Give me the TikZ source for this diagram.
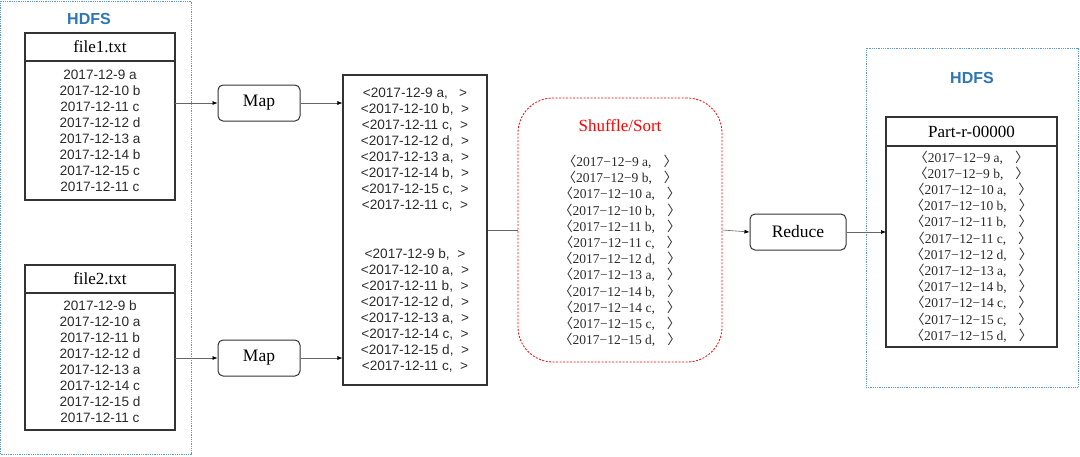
\documentclass[tikz,border=0pt]{standalone}
\usepackage{fontspec}
\setmainfont{Liberation Serif}
\setsansfont{Liberation Sans}
\newfontfamily\cjk{Noto Sans CJK SC}
\usetikzlibrary{arrows.meta,positioning}
\definecolor{hdfsline}{HTML}{5B9BD5}
\definecolor{hdfstext}{HTML}{2E75B6}
\definecolor{boxline}{HTML}{333333}
\definecolor{ink}{HTML}{2B2B2B}
\definecolor{shufred}{HTML}{FF0000}
\newcommand{\kv}[1]{{\cjk 〈}#1\hspace{12pt}{\cjk 〉}}

\begin{document}
\begin{tikzpicture}[x=1pt, y=-1pt,
  hdfs/.style={draw=hdfsline, densely dotted, line width=0.8pt, inner sep=0pt, outer sep=0pt},
  hdfslabel/.style={text=hdfstext, font=\sffamily\bfseries\fontsize{16}{18}\selectfont},
  filehead/.style={draw=boxline, line width=1.1pt, minimum width=150pt, minimum height=28pt,
    inner sep=0pt, outer sep=0pt, font=\fontsize{17}{20}\selectfont},
  filebody/.style={draw=boxline, line width=1.1pt, minimum width=150pt, minimum height=139pt,
    inner sep=0pt, outer sep=0pt, align=center, text=ink, font=\sffamily\fontsize{13.6}{16}\selectfont},
  stepnode/.style={draw=boxline, line width=1pt, rounded corners=5pt, minimum height=36pt,
    font=\fontsize{17.5}{18}\selectfont},
  pairbox/.style={draw=boxline, line width=1.1pt, align=center, text=ink,
    font=\sffamily\fontsize{13.6}{16}\selectfont},
  sorted/.style={align=center, text=ink, font=\fontsize{13.5}{16.2}\selectfont},
  conn/.style={draw=black!60, line width=0.6pt, -{Latex[length=5pt,width=4pt,color=black]}},
  link/.style={draw=black!60, line width=0.6pt}]
  \useasboundingbox (0,0) rectangle (1080,456);

  % left HDFS with the two input files
  \node[hdfs, minimum width=191pt, minimum height=453pt] (hdfsL) at (96,227.5) {};
  \node[hdfslabel] (hdfsLlabel) at (89,19) {HDFS};
  \node[filehead] (file1) at (100,47) {file1.txt};
  \node[filebody, below=0pt of file1] (file1body) {2017-12-9 a\\2017-12-10 b\\2017-12-11 c\\2017-12-12 d\\
    2017-12-13 a\\2017-12-14 b\\2017-12-15 c\\2017-12-11 c};
  \node[filehead] (file2) at (100,279) {file2.txt};
  \node[filebody, below=0pt of file2, minimum height=137pt] (file2body) {2017-12-9 b\\2017-12-10 a\\2017-12-11 b\\
    2017-12-12 d\\2017-12-13 a\\2017-12-14 c\\2017-12-15 d\\2017-12-11 c};

  % map stage
  \node[stepnode, minimum width=82pt] (map1) at (259,103) {Map};
  \node[stepnode, minimum width=82pt] (map2) at (259,358) {Map};
  \node[pairbox, minimum width=144pt, minimum height=310pt] (pairs) at (415,230)
    {<2017-12-9 a,\ \ \ >\\<2017-12-10 b,\ \ >\\<2017-12-11 c,\ \ >\\<2017-12-12 d,\ \ >\\
     <2017-12-13 a,\ \ >\\<2017-12-14 b,\ \ >\\<2017-12-15 c,\ \ >\\<2017-12-11 c,\ \ >\\[33pt]
     <2017-12-9 b,\ \ >\\<2017-12-10 a,\ \ >\\<2017-12-11 b,\ \ >\\<2017-12-12 d,\ \ >\\
     <2017-12-13 a,\ \ >\\<2017-12-14 c,\ \ >\\<2017-12-15 d,\ \ >\\<2017-12-11 c,\ \ >};

  % shuffle / sort
  \node[draw=shufred, dash pattern=on 2pt off 1.5pt, line width=0.8pt, rounded corners=35pt,
    minimum width=204pt, minimum height=264pt] (shuffle) at (620,230) {};
  \node[text=shufred, font=\fontsize{17}{18}\selectfont] (shuffletitle) at (620,126) {Shuffle/Sort};
  \node[sorted] (shufflelist) at (620,251) {\kv{2017−12−9 a,}\\\kv{2017−12−9 b,}\\\kv{2017−12−10 a,}\\
    \kv{2017−12−10 b,}\\\kv{2017−12−11 b,}\\\kv{2017−12−11 c,}\\\kv{2017−12−12 d,}\\\kv{2017−12−13 a,}\\
    \kv{2017−12−14 b,}\\\kv{2017−12−14 c,}\\\kv{2017−12−15 c,}\\\kv{2017−12−15 d,}};

  % reduce stage and output
  \node[stepnode, minimum width=96pt] (reduce) at (798,232) {Reduce};
  \node[hdfs, minimum width=212pt, minimum height=339pt] (hdfsR) at (972,217.5) {};
  \node[hdfslabel] (hdfsRlabel) at (972,78) {HDFS};
  \node[filehead, minimum width=171pt, minimum height=29pt] (part) at (971.5,131.5) {Part-r-00000};
  \node[filebody, below=0pt of part, minimum width=171pt, minimum height=201pt, sorted] (partbody)
    {\kv{2017−12−9 a,}\\\kv{2017−12−9 b,}\\\kv{2017−12−10 a,}\\\kv{2017−12−10 b,}\\\kv{2017−12−11 b,}\\
    \kv{2017−12−11 c,}\\\kv{2017−12−12 d,}\\\kv{2017−12−13 a,}\\\kv{2017−12−14 b,}\\\kv{2017−12−14 c,}\\
    \kv{2017−12−15 c,}\\\kv{2017−12−15 d,}};

  \draw[conn] (file1body.east |- map1.west) -- (map1.west);
  \draw[conn] (map1.east) -- (map1.east -| pairs.west);
  \draw[conn] (file2body.east |- map2.west) -- (map2.west);
  \draw[conn] (map2.east) -- (map2.east -| pairs.west);
  \draw[link] (pairs.east) -- (shuffle.west);
  \draw[conn] (shuffle.east) -- (reduce.west);
  \draw[conn] (reduce.east) -- (reduce.east -| partbody.west);
\end{tikzpicture}
\end{document}
